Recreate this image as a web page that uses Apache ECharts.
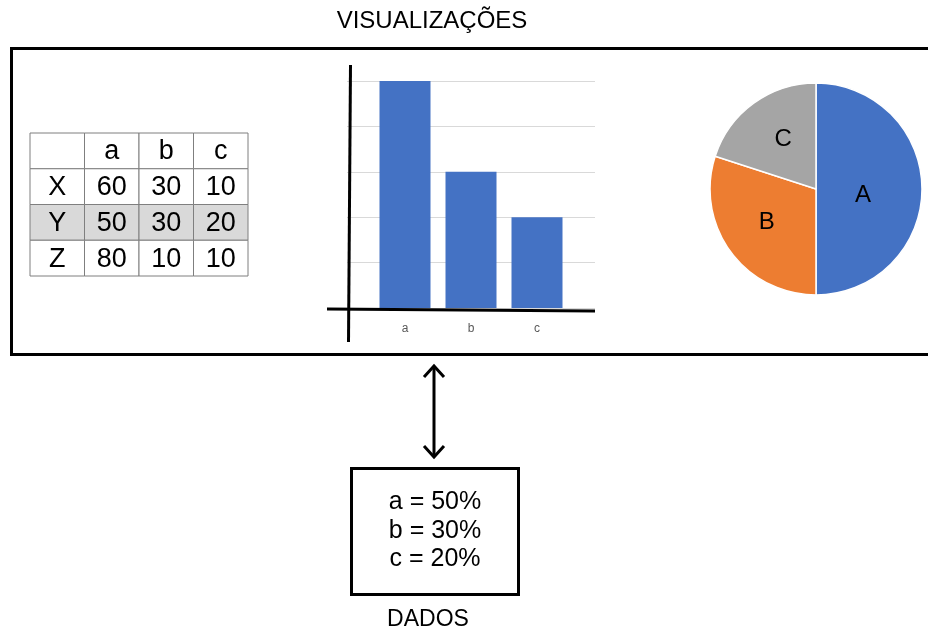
<!DOCTYPE html>
<html>
<head>
<meta charset="utf-8">
<script src="https://cdn.jsdelivr.net/npm/echarts@6/dist/echarts.min.js"></script>
<style>
  html, body { margin: 0; padding: 0; background: #fff; }
  #chart { width: 928px; height: 630px; }
</style>
</head>
<body>
<div id="chart"></div>
<script>
// Source table: columns a/b/c, rows X/Y/Z
const tableCols = ['a', 'b', 'c'];
const rowNames = ['X', 'Y', 'Z'];
const rowX = [60, 30, 10];
const rowY = [50, 30, 20];
const rowZ = [80, 10, 10];
const highlightedRow = 'Y';

// Shares shown by the bar chart, the pie and the "DADOS" box (row Y)
const categories = ['a', 'b', 'c'];
const shares = [50, 30, 20];
const pieNames = ['A', 'B', 'C'];

// Bar chart value axis ticks
const barAxisMax = 50;
const barAxisStep = 10;

const FONT = '"Liberation Sans", Arial, sans-serif';
const BLUE = '#4472c4', ORANGE = '#ed7d31', GREY = '#a5a5a5';

const chart = echarts.init(document.getElementById('chart'), null, { renderer: 'canvas' });

// Table cells: [column, row, text, shaded]
const tableRows = [rowX, rowY, rowZ];
const tableColLabels = [''].concat(tableCols);
const tableRowLabels = ['hdr'].concat(rowNames);
const cells = [];
tableColLabels.forEach((c, ci) => cells.push([ci, 0, c, 0]));
rowNames.forEach((r, ri) => {
  const shaded = r === highlightedRow ? 1 : 0;
  cells.push([0, ri + 1, r, shaded]);
  tableRows[ri].forEach((v, ci) => cells.push([ci + 1, ri + 1, String(v), shaded]));
});

const dataLines = categories.map((c, i) => `${c} = ${shares[i]}%`);

// nudges for the slice letters inside the pie
const pieLabelOffsets = [[-9, 6], [-4, 0], [0, -4]];

const option = {
  backgroundColor: '#ffffff',
  animation: false,
  textStyle: { fontFamily: FONT },
  grid: [
    { left: 30, top: 133, width: 218, height: 143 },   // table
    { left: 347, top: 81, width: 248, height: 227 },   // bar gridlines
    { left: 372, top: 81, width: 198, height: 227 }    // bars
  ],
  xAxis: [
    { gridIndex: 0, type: 'category', data: tableColLabels, show: false },
    { gridIndex: 1, type: 'value', min: 0, max: 1, show: false },
    {
      gridIndex: 2, type: 'category', data: categories,
      axisLine: { show: false }, axisTick: { show: false },
      axisLabel: { color: '#595959', fontSize: 12, margin: 15, fontFamily: FONT }
    }
  ],
  yAxis: [
    { gridIndex: 0, type: 'category', data: tableRowLabels, inverse: true, show: false },
    {
      gridIndex: 1, type: 'value', min: 0, max: barAxisMax, interval: barAxisStep,
      axisLine: { show: false }, axisTick: { show: false }, axisLabel: { show: false },
      splitLine: { show: true, lineStyle: { color: '#d9d9d9', width: 1 } }
    },
    {
      gridIndex: 2, type: 'value', min: 0, max: barAxisMax, interval: barAxisStep,
      show: false, splitLine: { show: false }
    }
  ],
  series: [
    {
      type: 'custom',
      xAxisIndex: 0, yAxisIndex: 0,
      data: cells,
      renderItem: function (params, api) {
        const p = api.coord([api.value(0), api.value(1)]);
        const s = api.size([1, 1]);
        const shaded = api.value(3) === 1;
        return {
          type: 'group',
          children: [
            {
              type: 'rect',
              shape: { x: p[0] - s[0] / 2, y: p[1] - s[1] / 2, width: s[0], height: s[1] },
              style: { fill: shaded ? '#d9d9d9' : '#ffffff', stroke: '#7f7f7f', lineWidth: 1 }
            },
            {
              type: 'text',
              x: p[0], y: p[1] + 1,
              style: {
                text: cells[params.dataIndex][2],
                fill: '#000', font: '27px ' + FONT,
                align: 'center', verticalAlign: 'middle'
              }
            }
          ]
        };
      }
    },
    {
      type: 'bar',
      xAxisIndex: 2, yAxisIndex: 2,
      data: shares,
      barWidth: 51,
      itemStyle: { color: BLUE }
    },
    {
      type: 'pie',
      center: [816, 189],
      radius: 106,
      startAngle: 90,
      clockwise: true,
      data: pieNames.map((n, i) => ({
        name: n, value: shares[i],
        label: { offset: pieLabelOffsets[i] }
      })),
      color: [BLUE, ORANGE, GREY],
      itemStyle: { borderColor: '#ffffff', borderWidth: 1.5 },
      label: {
        position: 'inside', formatter: '{b}', color: '#000',
        fontSize: 24, fontFamily: FONT
      },
      labelLine: { show: false },
      emphasis: { disabled: true }
    }
  ],
  graphic: [
    // title
    {
      type: 'text', x: 432, y: 21,
      style: { text: 'VISUALIZAÇÕES', font: '24px ' + FONT, fill: '#000', align: 'center', verticalAlign: 'middle' }
    },
    // frame around the visualisations
    {
      type: 'rect', shape: { x: 11.5, y: 48.5, width: 930, height: 306 },
      style: { fill: 'none', stroke: '#000', lineWidth: 3 }
    },
    // hand-drawn bar chart axes
    {
      type: 'line', shape: { x1: 350.5, y1: 65, x2: 348.5, y2: 342 },
      style: { stroke: '#000', lineWidth: 3 }, z: 10
    },
    {
      type: 'line', shape: { x1: 327, y1: 309, x2: 595, y2: 311 },
      style: { stroke: '#000', lineWidth: 3 }, z: 10
    },
    // double-headed arrow
    {
      type: 'line', shape: { x1: 434, y1: 366, x2: 434, y2: 457 },
      style: { stroke: '#000', lineWidth: 3 }
    },
    {
      type: 'polyline', shape: { points: [[424, 377], [434, 366], [444, 377]] },
      style: { stroke: '#000', lineWidth: 3, fill: 'none' }
    },
    {
      type: 'polyline', shape: { points: [[424, 446], [434, 457], [444, 446]] },
      style: { stroke: '#000', lineWidth: 3, fill: 'none' }
    },
    // data box
    {
      type: 'rect', shape: { x: 351.5, y: 468.5, width: 167, height: 126 },
      style: { fill: 'none', stroke: '#000', lineWidth: 3 }
    },
    {
      type: 'text', x: 435, y: 531,
      style: {
        text: dataLines.join('\n'), font: '25px ' + FONT, lineHeight: 28.5,
        fill: '#000', align: 'center', verticalAlign: 'middle'
      }
    },
    {
      type: 'text', x: 428, y: 620,
      style: { text: 'DADOS', font: '23px ' + FONT, fill: '#000', align: 'center', verticalAlign: 'middle' }
    }
  ]
};

chart.setOption(option);
</script>
</body>
</html>
